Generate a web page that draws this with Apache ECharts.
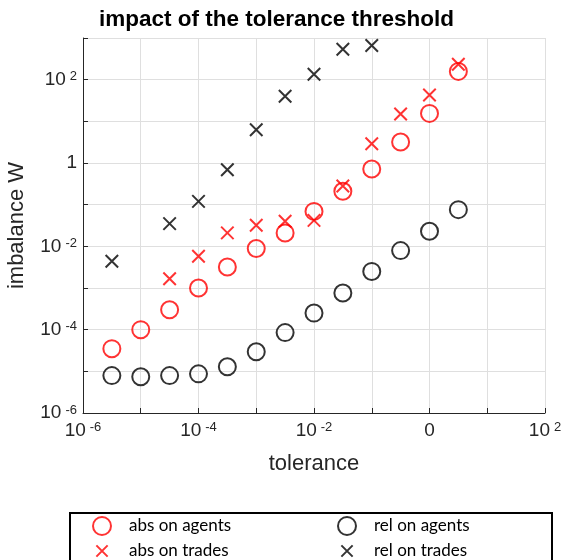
<!DOCTYPE html>
<html>
<head>
<meta charset="utf-8">
<script src="https://cdn.jsdelivr.net/npm/echarts@6/dist/echarts.min.js"></script>
<style>
  html, body { margin: 0; padding: 0; background: #fff; }
  #main { width: 561px; height: 560px; }
</style>
</head>
<body>
<div id="main"></div>
<script>
  // tolerance values (half decades)
  var tolerance = [3.16e-6, 1e-5, 3.16e-5, 1e-4, 3.16e-4, 1e-3, 3.16e-3, 1e-2, 3.16e-2, 0.1, 0.316, 1, 3.16];
  var absAgents = [3.5e-5, 1.0e-4, 3.0e-4, 1.0e-3, 3.2e-3, 8.9e-3, 2.1e-2, 6.9e-2, 0.21, 0.72, 3.2, 15.5, 158];
  var absTrades = [null, null, 1.66e-3, 5.8e-3, 2.1e-2, 3.2e-2, 4.0e-2, 4.2e-2, 0.28, 2.9, 15, 43, 234];
  var relAgents = [7.9e-6, 7.4e-6, 7.9e-6, 8.7e-6, 1.29e-5, 2.95e-5, 8.5e-5, 2.5e-4, 7.6e-4, 2.5e-3, 7.9e-3, 2.3e-2, 7.6e-2];
  var relTrades = [4.4e-3, null, 3.5e-2, 0.12, 0.69, 6.3, 40, 135, 537, 660, null, null, null];

  // tick labels (only every second decade is labelled)
  var xTickExp = [-6, -4, -2, 0, 2];
  var xTickText = ['10|-6', '10|-4', '10|-2', '0', '10|2'];
  var yTickExp = [-6, -4, -2, 0, 2];
  var yTickText = ['10|-6', '10|-4', '10|-2', '1', '10|2'];

  var textColor = '#262626';
  var fontFamily = '"Liberation Sans", Arial, sans-serif';
  var legendFont = 'Lato, "DejaVu Sans", sans-serif';

  function pairs(ys) {
    var out = [];
    for (var i = 0; i < tolerance.length; i++) {
      if (ys[i] != null) out.push([tolerance[i], ys[i]]);
    }
    return out;
  }

  function makeFormatter(exps, texts) {
    return function (v) {
      var e = Math.round(Math.log10(v));
      var k = exps.indexOf(e);
      if (k < 0) return '';
      var t = texts[k].split('|');
      if (t.length === 1) return '{b|' + t[0] + '}';
      return '{b|' + t[0] + '}{s|' + t[1] + '}';
    };
  }

  // exponent raised a bit above the base
  var labelRich = {
    b: { fontSize: 19, lineHeight: 19, color: textColor, fontFamily: fontFamily, verticalAlign: 'bottom' },
    s: { fontSize: 13, lineHeight: 13, color: textColor, fontFamily: fontFamily, verticalAlign: 'top', padding: [0, 0, 10, 4] }
  };

  // cross with some empty margin so that the legend icon stays small
  var crossPath = 'path://M-3,-3M0,0L10,10M10,0L0,10M13,13';

  var legendText = { fontSize: 17, lineHeight: 18, color: '#000', fontFamily: legendFont, padding: [0, 0, 0, 7] };

  var myChart = echarts.init(document.getElementById('main'));
  var option = {
    backgroundColor: '#fff',
    animation: false,
    title: {
      text: 'impact of the tolerance threshold',
      left: 99,
      top: 8,
      padding: 0,
      textStyle: { fontSize: 22.5, fontWeight: 'bold', color: '#000', fontFamily: fontFamily }
    },
    grid: { left: 83, right: 16, top: 38, bottom: 147, outerBoundsMode: 'none', containLabel: false },
    xAxis: {
      type: 'log',
      logBase: 10,
      min: 1e-6,
      max: 1e2,
      splitNumber: 8,
      name: 'tolerance',
      nameLocation: 'middle',
      nameGap: 40,
      nameTextStyle: { fontSize: 22, color: textColor, fontFamily: fontFamily },
      axisLine: { lineStyle: { color: textColor, width: 1 } },
      axisTick: { inside: true, length: 5, lineStyle: { color: textColor } },
      axisLabel: { formatter: makeFormatter(xTickExp, xTickText), rich: labelRich, margin: 8, showMinLabel: true, showMaxLabel: true },
      splitLine: { show: true, lineStyle: { color: '#dfdfdf', width: 1 } }
    },
    yAxis: {
      type: 'log',
      logBase: 10,
      min: 1e-6,
      max: 1e3,
      splitNumber: 9,
      name: 'imbalance W',
      nameLocation: 'middle',
      nameGap: 55,
      nameTextStyle: { fontSize: 22, color: textColor, fontFamily: fontFamily },
      axisLine: { lineStyle: { color: textColor, width: 1 } },
      axisTick: { inside: true, length: 5, lineStyle: { color: textColor } },
      axisLabel: { formatter: makeFormatter(yTickExp, yTickText), rich: labelRich, margin: 6, showMinLabel: true },
      splitLine: { show: true, lineStyle: { color: '#dfdfdf', width: 1 } }
    },
    legend: [
      {
        orient: 'vertical',
        left: 92,
        top: 516,
        height: 60,
        padding: 0,
        itemGap: 5,
        itemWidth: 30,
        itemHeight: 18,
        data: ['abs on agents', 'abs on trades'],
        textStyle: legendText
      },
      {
        orient: 'vertical',
        left: 337,
        top: 516,
        height: 60,
        padding: 0,
        itemGap: 5,
        itemWidth: 30,
        itemHeight: 18,
        data: ['rel on agents', 'rel on trades'],
        textStyle: legendText
      }
    ],
    graphic: [
      {
        type: 'rect',
        shape: { x: 70, y: 513, width: 482, height: 70 },
        style: { fill: 'none', stroke: '#000', lineWidth: 2 },
        silent: true
      }
    ],
    series: [
      {
        name: 'abs on agents',
        type: 'scatter',
        symbol: 'circle',
        symbolSize: 17,
        itemStyle: { color: 'rgba(0,0,0,0)', borderColor: '#ff0000', borderWidth: 2 },
        data: pairs(absAgents)
      },
      {
        name: 'abs on trades',
        type: 'scatter',
        symbol: crossPath,
        symbolSize: 20,
        itemStyle: { color: 'rgba(0,0,0,0)', borderColor: '#ff0000', borderWidth: 2 },
        data: pairs(absTrades)
      },
      {
        name: 'rel on agents',
        type: 'scatter',
        symbol: 'circle',
        symbolSize: 17,
        itemStyle: { color: 'rgba(0,0,0,0)', borderColor: '#000', borderWidth: 2 },
        data: pairs(relAgents)
      },
      {
        name: 'rel on trades',
        type: 'scatter',
        symbol: crossPath,
        symbolSize: 20,
        itemStyle: { color: 'rgba(0,0,0,0)', borderColor: '#000', borderWidth: 2 },
        data: pairs(relTrades)
      }
    ]
  };
  myChart.setOption(option);
  window.addEventListener('resize', function () { myChart.resize(); });
</script>
</body>
</html>
